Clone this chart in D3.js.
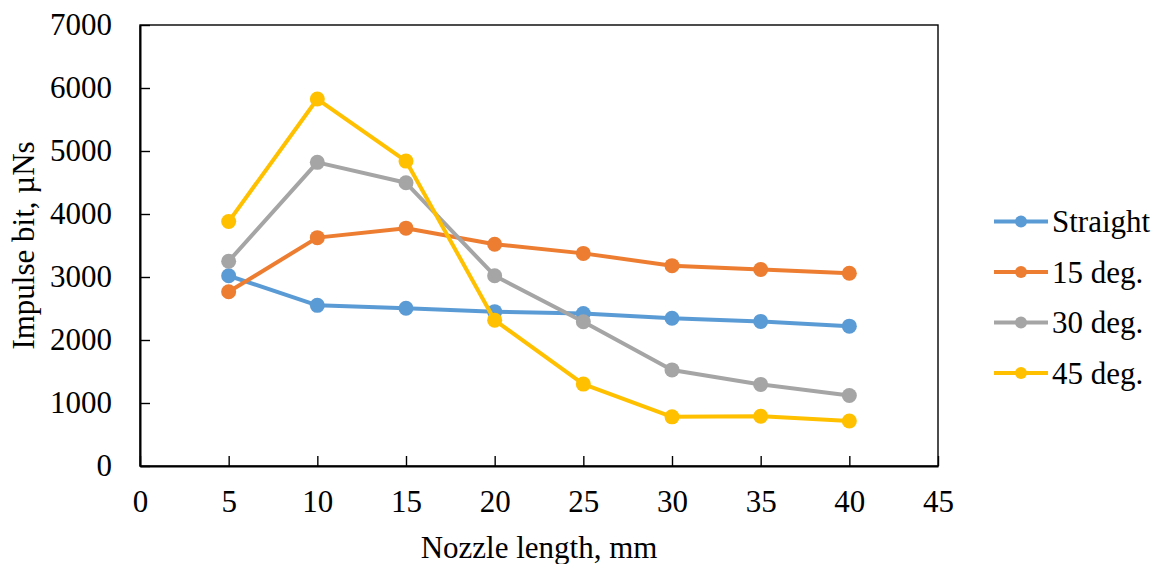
<!DOCTYPE html>
<html>
<head>
<meta charset="utf-8">
<script src="https://cdn.jsdelivr.net/npm/d3@7"></script>
<style>
  html, body { margin: 0; padding: 0; background: #fff; }
  svg { display: block; }
  svg text { font-family: "Liberation Serif", "Times New Roman", Times, "DejaVu Serif", serif !important; fill: #000; font-size: 31px; }
</style>
</head>
<body>
<svg id="chart" width="1157" height="564"></svg>
<script>
// Nozzle lengths (mm) and impulse bit (µNs) for each nozzle bend angle
const nozzleLength = [5, 10, 15, 20, 25, 30, 35, 40];
const straight = [3020, 2550, 2505, 2450, 2420, 2345, 2295, 2220];
const deg15    = [2765, 3625, 3775, 3520, 3375, 3180, 3120, 3060];
const deg30    = [3250, 4820, 4495, 3020, 2290, 1525, 1295, 1120];
const deg45    = [3880, 5825, 4840, 2315, 1300, 780, 790, 715];

const seriesNames  = ["Straight", "15 deg.", "30 deg.", "45 deg."];
const seriesColors = ["#5B9BD5", "#ED7D31", "#A5A5A5", "#FFC000"];
const seriesValues = [straight, deg15, deg30, deg45];

const xTicks = [0, 5, 10, 15, 20, 25, 30, 35, 40, 45];
const yTicks = [0, 1000, 2000, 3000, 4000, 5000, 6000, 7000];

const svg = d3.select("#chart");
const plot = { left: 140, right: 938, top: 25, bottom: 466 };

const x = d3.scaleLinear().domain([0, 45]).range([plot.left, plot.right]);
const y = d3.scaleLinear().domain([0, 7000]).range([plot.bottom, plot.top]);

// Plot frame
svg.append("rect")
  .attr("x", plot.left).attr("y", plot.top)
  .attr("width", plot.right - plot.left).attr("height", plot.bottom - plot.top)
  .attr("fill", "none").attr("stroke", "#000").attr("stroke-width", 1.4);

// Axes with ticks pointing into the plot
const xAxis = d3.axisBottom(x).tickValues(xTicks).tickFormat(d3.format("d"))
  .tickSize(-10).tickPadding(24).tickSizeOuter(0);
const gx = svg.append("g").attr("transform", `translate(0,${plot.bottom})`).call(xAxis);
gx.attr("font-family", null).attr("font-size", null);
gx.select(".domain").attr("stroke", "#000").attr("stroke-width", 2);
gx.selectAll(".tick line").attr("stroke", "#000").attr("stroke-width", 1.4);

const yAxis = d3.axisLeft(y).tickValues(yTicks).tickFormat(d3.format("d"))
  .tickSize(-10).tickPadding(28).tickSizeOuter(0);
const gy = svg.append("g").attr("transform", `translate(${plot.left},0)`).call(yAxis);
gy.attr("font-family", null).attr("font-size", null);
gy.select(".domain").attr("stroke", "#000").attr("stroke-width", 2);
gy.selectAll(".tick line").attr("stroke", "#000").attr("stroke-width", 1.4);

// Series lines and markers
const line = d3.line().x((d, i) => x(nozzleLength[i])).y(d => y(d));
seriesValues.forEach((vals, s) => {
  const g = svg.append("g");
  g.append("path").datum(vals)
    .attr("d", line).attr("fill", "none")
    .attr("stroke", seriesColors[s]).attr("stroke-width", 4)
    .attr("stroke-linejoin", "round");
  g.selectAll("circle").data(vals).enter().append("circle")
    .attr("cx", (d, i) => x(nozzleLength[i])).attr("cy", d => y(d))
    .attr("r", 7.5).attr("fill", seriesColors[s]);
});

// Axis titles
svg.append("text")
  .attr("x", (plot.left + plot.right) / 2).attr("y", 558)
  .attr("text-anchor", "middle")
  .text("Nozzle length, mm");
svg.append("text")
  .attr("transform", `translate(34,${(plot.top + plot.bottom) / 2}) rotate(-90)`)
  .attr("text-anchor", "middle")
  .text("Impulse bit, µNs");

// Legend
const legend = svg.append("g");
seriesNames.forEach((name, s) => {
  const cy = 221.5 + s * 50.5;
  legend.append("line")
    .attr("x1", 994).attr("x2", 1048).attr("y1", cy).attr("y2", cy)
    .attr("stroke", seriesColors[s]).attr("stroke-width", 4);
  legend.append("circle").attr("cx", 1021).attr("cy", cy).attr("r", 6).attr("fill", seriesColors[s]);
  legend.append("text").attr("x", 1052).attr("y", cy).attr("dy", "0.35em")
    .text(name);
});
</script>
</body>
</html>
